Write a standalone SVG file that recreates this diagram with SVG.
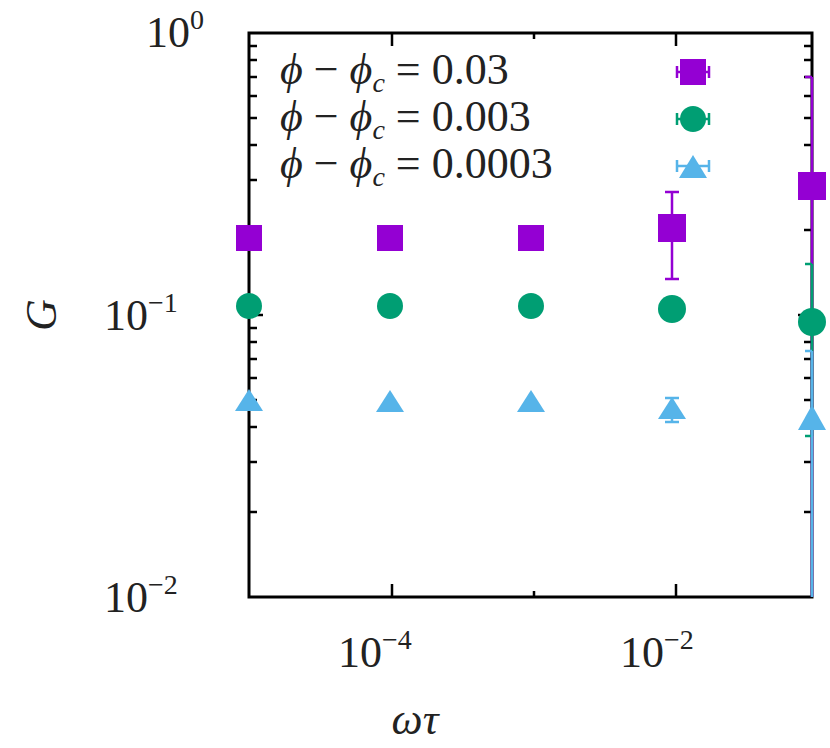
<svg xmlns="http://www.w3.org/2000/svg" width="830" height="748" viewBox="0 0 830 748">
<style>
.ax{stroke:#000;stroke-width:3;fill:none}
.tk{stroke:#000;stroke-width:2.5}
.sq{fill:#9400D3}.ci{fill:#009E73}.tr{fill:#56B4E9}
.eb1{stroke:#9400D3;stroke-width:2.5}.eb2{stroke:#009E73;stroke-width:2.5}.eb3{stroke:#56B4E9;stroke-width:2.5}
</style>
<rect width="830" height="748" fill="#fff"/>
<g id="axes">
<path class="tk" d="M249 46h8M249 60h8M249 77h8M249 96h8M249 118h8M249 145h8M249 180h8M249 230h8M249 315h14M249 328h8M249 342h8M249 359h8M249 378h8M249 400h8M249 427h8M249 462h8M249 512h8
M812 46h-8M812 60h-8M812 77h-8M812 96h-8M812 118h-8M812 145h-8M812 180h-8M812 230h-8M812 315h-14M812 328h-8M812 342h-8M812 359h-8M812 378h-8M812 400h-8M812 427h-8M812 462h-8M812 512h-8
M392 597v-13M534 597v-6M676 597v-13M392 33v13M534 33v6M676 33v13"/>
<rect class="ax" x="249" y="33" width="563" height="564"/>
</g>
<g font-family="Liberation Serif, DejaVu Serif, serif" font-size="44" fill="#222">
<g id="labels">
<text x="146" y="47">10<tspan font-size="28" dy="-18">0</tspan></text>
<text x="104" y="330">10<tspan font-size="28" dy="-18">−1</tspan></text>
<text x="104" y="612">10<tspan font-size="28" dy="-18">−2</tspan></text>
<text x="338" y="667">10<tspan font-size="28" dy="-18">−4</tspan></text>
<text x="620" y="667">10<tspan font-size="28" dy="-18">−2</tspan></text>
<text font-style="italic" x="415" y="734" text-anchor="middle">ωτ</text>
<text font-style="italic" transform="translate(56 315) rotate(-90)" text-anchor="middle">G</text>
</g>
<g id="legend">
<text x="280" y="84"><tspan font-style="italic">ϕ</tspan> − <tspan font-style="italic">ϕ</tspan><tspan font-size="28" font-style="italic" dy="8">c</tspan><tspan dy="-8"> = 0.03</tspan></text>
<text x="280" y="131"><tspan font-style="italic">ϕ</tspan> − <tspan font-style="italic">ϕ</tspan><tspan font-size="28" font-style="italic" dy="8">c</tspan><tspan dy="-8"> = 0.003</tspan></text>
<text x="280" y="178"><tspan font-style="italic">ϕ</tspan> − <tspan font-style="italic">ϕ</tspan><tspan font-size="28" font-style="italic" dy="8">c</tspan><tspan dy="-8"> = 0.0003</tspan></text>
</g>
</g>
<g id="legend-keys">
<path class="eb1" d="M677 72h32M677 66v12M709 66v12"/>
<rect class="sq" x="680" y="59" width="26" height="26"/>
<path class="eb2" d="M677 119h32M677 113v12M709 113v12"/>
<circle class="ci" cx="693" cy="119" r="13"/>
<path class="eb3" d="M677 166h32M677 160v12M709 160v12"/>
<polygon class="tr" points="693,155 707,178 679,178"/>
</g>
<g id="connectors">
<path class="eb1" d="M672 192v87M665 192h14M665 279h14M812 77v520M805 77h7"/>
<path class="eb2" d="M812 264v172M805 264h7M805 436h7"/>
<path class="eb3" d="M672 398v24M665 398h14M665 422h14M812 351v246M805 351h7"/>
</g>
<g id="series1">
<rect class="sq" x="236" y="225" width="26" height="26"/>
<rect class="sq" x="377" y="225" width="26" height="26"/>
<rect class="sq" x="518" y="225" width="26" height="26"/>
<rect class="sq" x="658" y="214" width="28" height="28"/>
<rect class="sq" x="798" y="172" width="28" height="28"/>
</g>
<g id="series2">
<circle class="ci" cx="249" cy="306" r="13"/>
<circle class="ci" cx="390" cy="306" r="13"/>
<circle class="ci" cx="531" cy="306" r="13"/>
<circle class="ci" cx="672" cy="309" r="14"/>
<circle class="ci" cx="812" cy="322" r="14"/>
</g>
<g id="series3">
<polygon class="tr" points="249,389 263,411 235,411"/>
<polygon class="tr" points="390,390 404,412 376,412"/>
<polygon class="tr" points="531,390 545,412 517,412"/>
<polygon class="tr" points="672,397 686,419 658,419"/>
<polygon class="tr" points="812,405 826,430 798,430"/>
</g>
</svg>
